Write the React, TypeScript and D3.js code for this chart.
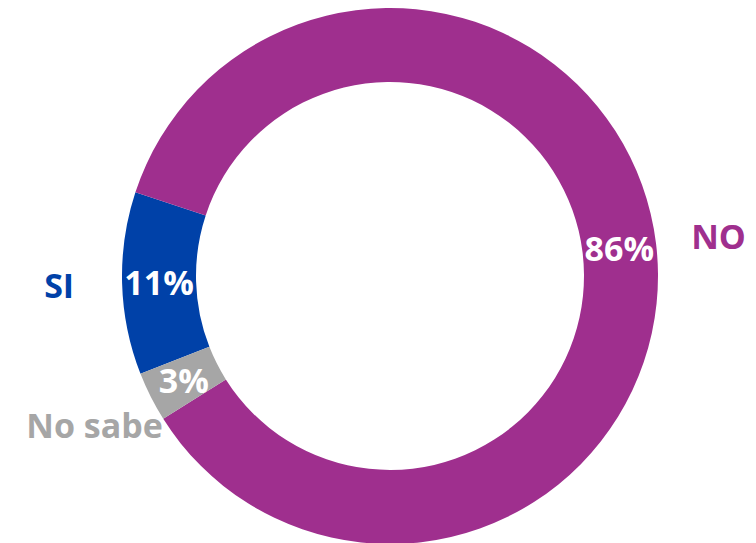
import React from "react";
import * as d3 from "d3";

const categories = ["SI", "NO", "No sabe"];
const values = [11, 86, 3];
const valueLabels = ["11%", "86%", "3%"];
const colors = ["#0041A8", "#9F2F8E", "#A6A6A6"];

const W = 756;
const H = 543;
const cx = 390;
const cy = 276;
const outerR = 268;
const innerR = 194;
const labelR = 331;
const startDeg = 248.6;

export default function App() {
  const pie = d3
    .pie<number>()
    .sort(null)
    .value((d) => d)
    .startAngle((startDeg * Math.PI) / 180)
    .endAngle(((startDeg + 360) * Math.PI) / 180);
  const arcs = pie(values);
  const arc = d3.arc<d3.PieArcDatum<number>>().innerRadius(innerR).outerRadius(outerR);
  const outerArc = d3.arc<d3.PieArcDatum<number>>().innerRadius(labelR).outerRadius(labelR);
  const font = "'Open Sans', Lato, sans-serif";
  return (
    <svg
      width={W}
      height={H}
      style={{ position: "absolute", left: 0, top: 0 }}
    >
      <g transform={`translate(${cx},${cy})`}>
        {arcs.map((a, i) => (
          <path key={i} d={arc(a) || ""} fill={colors[i]} />
        ))}
        {arcs.map((a, i) => {
          const [x, y] = arc.centroid(a);
          return (
            <text
              key={"v" + i}
              x={x}
              y={y}
              textAnchor="middle"
              dominantBaseline="central"
              fill="#fff"
              fontFamily={font}
              fontWeight="bold"
              fontSize={34}
            >
              {valueLabels[i]}
            </text>
          );
        })}
        {arcs.map((a, i) => {
          const [x, y] = outerArc.centroid(a);
          return (
            <text
              key={"c" + i}
              x={x}
              y={y}
              textAnchor="middle"
              dominantBaseline="central"
              fill={colors[i]}
              fontFamily={font}
              fontWeight="bold"
              fontSize={34}
            >
              {categories[i]}
            </text>
          );
        })}
      </g>
    </svg>
  );
}
